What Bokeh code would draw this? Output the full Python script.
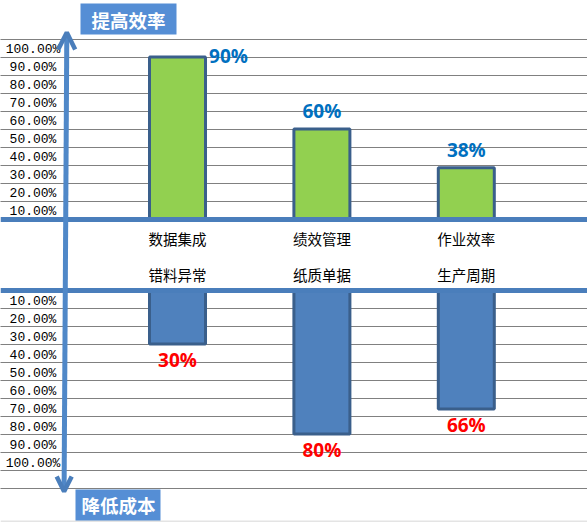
from bokeh.plotting import figure
from bokeh.models import Range1d, Arrow, OpenHead
from bokeh.core.properties import value
from bokeh.embed import file_html
from bokeh.resources import INLINE

# ---------------- data ----------------
UP_CATS = ["数据集成", "绩效管理", "作业效率"]
DOWN_CATS = ["错料异常", "纸质单据", "生产周期"]
UP_VALUES = [90, 50, 28.5]          # bar heights (%)
UP_LABELS = ["90%", "60%", "38%"]   # labels as printed
DOWN_VALUES = [30, 80, 66]
DOWN_LABELS = ["30%", "80%", "66%"]
TICKS = [10, 20, 30, 40, 50, 60, 70, 80, 90, 100]
TICK_LABELS = ["10.00%", "20.00%", "30.00%", "40.00%", "50.00%",
               "60.00%", "70.00%", "80.00%", "90.00%", "100.00%"]
TITLE_UP = "提高效率"
TITLE_DOWN = "降低成本"

# ---------------- layout ----------------
W, H = 587, 522
X0_PX = 177.0          # pixel of first category centre
CAT_PX = 144.4         # pixels per category
Y0_PX = 218.5          # pixel of upper zero line
UNIT_PX = 1.8          # pixels per percent
LOWER_BASE = -39.5     # lower zero line in data units

Y_TOP = Y0_PX / UNIT_PX


def px2x(px):
    return (px - X0_PX) / CAT_PX


def py2y(py):
    return Y_TOP - py / UNIT_PX


p = figure(width=W, height=H,
           x_range=Range1d(px2x(0), px2x(W)),
           y_range=Range1d(py2y(H), py2y(0)),
           toolbar_location=None, output_backend="svg",
           min_border=0, min_border_left=0, min_border_right=0,
           min_border_top=0, min_border_bottom=0)
p.axis.visible = False
p.grid.visible = False
p.outline_line_color = None
p.background_fill_color = "white"
p.border_fill_color = "white"

AXIS_COLOR = "#4A7EBB"
BAR_EDGE = "#3A5F8B"

# dotted grid lines
grid_up = list(TICKS)
grid_down = [LOWER_BASE - t for t in TICKS] + [LOWER_BASE - TICKS[-1] - (TICKS[1] - TICKS[0])]
p.hspan(y=grid_up + grid_down, line_color="black", line_width=1, line_dash="1 1")

# tick labels
tick_x = [px2x(32.5)] * len(TICKS)
p.text(x=tick_x, y=[t - 5.9 for t in TICKS], text=TICK_LABELS,
       text_font=value("Liberation Mono"), text_font_size="13px",
       text_align="center", text_baseline="middle", text_color="black")
p.text(x=tick_x, y=[LOWER_BASE - t + 3.9 for t in TICKS], text=TICK_LABELS,
       text_font=value("Liberation Mono"), text_font_size="13px",
       text_align="center", text_baseline="middle", text_color="black")

idx = list(range(len(UP_CATS)))
BAR_W = 56 / CAT_PX

# upper bars
p.vbar(x=idx, bottom=0, top=UP_VALUES, width=BAR_W,
       fill_color="#92D050", line_color=BAR_EDGE, line_width=3)
# lower bars
p.vbar(x=idx, top=LOWER_BASE, bottom=[LOWER_BASE - v for v in DOWN_VALUES], width=BAR_W,
       fill_color="#4F81BD", line_color=BAR_EDGE, line_width=3)

# horizontal axis lines
p.hspan(y=[0, LOWER_BASE], line_color=AXIS_COLOR, line_width=5)

# category labels
p.text(x=idx, y=[py2y(238)] * 3, text=UP_CATS,
       text_font=value("Noto Sans CJK SC"), text_font_size="14.5px",
       text_align="center", text_baseline="middle", text_color="black")
p.text(x=idx, y=[py2y(273.5)] * 3, text=DOWN_CATS,
       text_font=value("Noto Sans CJK SC"), text_font_size="14.5px",
       text_align="center", text_baseline="middle", text_color="black")

# value labels (upper): first sits to the right of its bar, others above
ux = [i + (51 / CAT_PX if i == 0 else 0.0) for i in idx]
uy = [v + (0.3 if i == 0 else 10) for i, v in zip(idx, UP_VALUES)]
p.text(x=ux, y=uy, text=UP_LABELS, text_font=value("Open Sans"),
       text_font_size="19px", text_font_style="bold", text_color="#0070C0",
       text_align="center", text_baseline="middle")
# value labels (lower): below the bars
dy = [LOWER_BASE - v - 9 for v in DOWN_VALUES]
p.text(x=idx, y=dy, text=DOWN_LABELS, text_font=value("Open Sans"),
       text_font_size="19px", text_font_style="bold", text_color="#FF0000",
       text_align="center", text_baseline="middle")

# vertical double arrow
ax_top_x, ax_bot_x = px2x(66.3), px2x(63.6)
mid_y = (0 + LOWER_BASE) / 2
mid_x = (ax_top_x + ax_bot_x) / 2
p.segment(x0=[ax_top_x], y0=[py2y(34)], x1=[ax_bot_x], y1=[py2y(489)],
          line_color="#5088C8", line_width=5)
p.add_layout(Arrow(end=OpenHead(size=17, line_width=4.5, line_color=AXIS_COLOR),
                   x_start=mid_x, y_start=mid_y, x_end=ax_top_x, y_end=py2y(32),
                   line_color="#5088C8", line_width=0.1, line_alpha=0))
p.add_layout(Arrow(end=OpenHead(size=15, line_width=4.5, line_color=AXIS_COLOR),
                   x_start=mid_x, y_start=mid_y, x_end=ax_bot_x, y_end=py2y(491),
                   line_color="#5088C8", line_width=0.1, line_alpha=0))

# title boxes
p.rect(x=[px2x(128)], y=[py2y(18.5)], width=96, height=31,
       width_units="screen", height_units="screen",
       fill_color="#558ED5", line_color=None)
p.text(x=[px2x(128)], y=[py2y(19)], text=[TITLE_UP],
       text_font=value("Noto Sans CJK SC"), text_font_size="18.5px",
       text_font_style="bold", text_color="white",
       text_align="center", text_baseline="middle")
p.rect(x=[px2x(117.5)], y=[py2y(505)], width=85, height=32,
       width_units="screen", height_units="screen",
       fill_color="#558ED5", line_color=None)
p.text(x=[px2x(118)], y=[py2y(504)], text=[TITLE_DOWN],
       text_font=value("Noto Sans CJK SC"), text_font_size="18.5px",
       text_font_style="bold", text_color="white",
       text_align="center", text_baseline="middle")

# window edge
p.hspan(y=[py2y(521)], line_color="#E4E4E4", line_width=2)

open("out.html", "w").write(file_html(p, INLINE))
